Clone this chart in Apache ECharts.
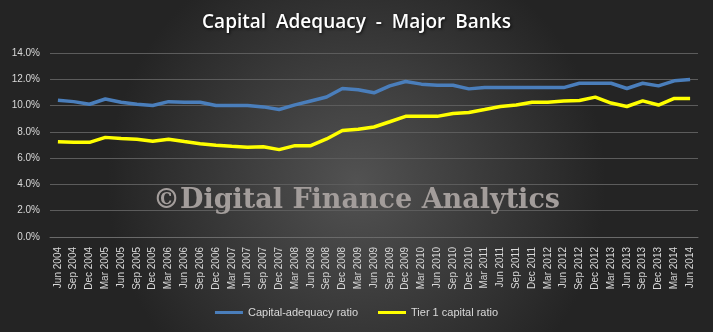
<!DOCTYPE html>
<html><head><meta charset="utf-8">
<script src="https://cdn.jsdelivr.net/npm/echarts@6/dist/echarts.min.js"></script>
<style>html,body{margin:0;padding:0;background:#333;}#c{width:713px;height:332px;}</style>
</head><body><div id="c"></div>
<script>
const categories = ["Jun 2004","Sep 2004","Dec 2004","Mar 2005","Jun 2005","Sep 2005","Dec 2005","Mar 2006","Jun 2006","Sep 2006","Dec 2006","Mar 2007","Jun 2007","Sep 2007","Dec 2007","Mar 2008","Jun 2008","Sep 2008","Dec 2008","Mar 2009","Jun 2009","Sep 2009","Dec 2009","Mar 2010","Jun 2010","Sep 2010","Dec 2010","Mar 2011","Jun 2011","Sep 2011","Dec 2011","Mar 2012","Jun 2012","Sep 2012","Dec 2012","Mar 2013","Jun 2013","Sep 2013","Dec 2013","Mar 2014","Jun 2014"];
const capitalAdequacy = [10.4,10.3,10.1,10.5,10.25,10.1,10.0,10.3,10.25,10.25,10.0,10.0,10.0,9.9,9.7,10.05,10.35,10.65,11.3,11.2,10.97,11.5,11.83,11.63,11.55,11.55,11.27,11.37,11.37,11.37,11.37,11.37,11.37,11.7,11.7,11.7,11.3,11.7,11.5,11.88,11.98];
const tier1 = [7.25,7.2,7.2,7.58,7.5,7.43,7.28,7.43,7.26,7.1,6.98,6.9,6.83,6.87,6.65,6.95,6.95,7.46,8.1,8.2,8.37,8.77,9.18,9.18,9.18,9.4,9.48,9.7,9.93,10.04,10.26,10.26,10.34,10.39,10.64,10.19,9.93,10.36,10.04,10.54,10.54];
const seriesNames = ["Capital-adequacy ratio","Tier 1 capital ratio"];
const yTicks = {min:0,max:14,interval:2};

const chart = echarts.init(document.getElementById('c'));
chart.setOption({
  animation:false,
  backgroundColor:{type:'radial',x:0.5,y:0.55,r:0.75,colorStops:[{offset:0,color:'#525252'},{offset:1,color:'#242424'}]},
  title:{text:'Capital  Adequacy  -  Major  Banks',left:'center',top:8,
    textStyle:{color:'#ffffff',fontFamily:'Open Sans',fontWeight:'600',fontSize:19,
      textShadowColor:'rgba(0,0,0,0.8)',textShadowBlur:3,textShadowOffsetX:1,textShadowOffsetY:1}},
  grid:{left:50,right:15,top:53,bottom:95,containLabel:false},
  legend:{bottom:9,left:'center',itemWidth:28,itemHeight:3,itemGap:20,icon:'rect',
    textStyle:{color:'#d9d9d9',fontSize:11,fontFamily:'Liberation Sans'},
    data:seriesNames},
  xAxis:{type:'category',data:categories,boundaryGap:true,
    axisLine:{lineStyle:{color:'#6a6a6a'}},axisTick:{show:false},
    axisLabel:{rotate:90,interval:0,color:'#d9d9d9',fontSize:10,fontFamily:'Liberation Sans',margin:10}},
  yAxis:{type:'value',min:yTicks.min,max:yTicks.max,interval:yTicks.interval,
    axisLine:{show:false},axisTick:{show:false},
    splitLine:{lineStyle:{color:'#5c5c5c',width:1}},
    axisLabel:{formatter:v=>v.toFixed(1)+'%',color:'#d9d9d9',fontSize:10,fontFamily:'Liberation Sans',margin:10}},
  graphic:[{type:'text',left:153,top:187,z:5,
    style:{text:'\u00A9Digital Finance Analytics',fill:'#a39d9b',font:'bold 27px "DejaVu Serif"'}}],
  series:[
    {name:seriesNames[0],type:'line',data:capitalAdequacy,symbol:'none',lineStyle:{color:'#4a7ebb',width:3.5},itemStyle:{color:'#4a7ebb'}},
    {name:seriesNames[1],type:'line',data:tier1,symbol:'none',lineStyle:{color:'#ffff00',width:3.5},itemStyle:{color:'#ffff00'}}
  ]
});
</script></body></html>
